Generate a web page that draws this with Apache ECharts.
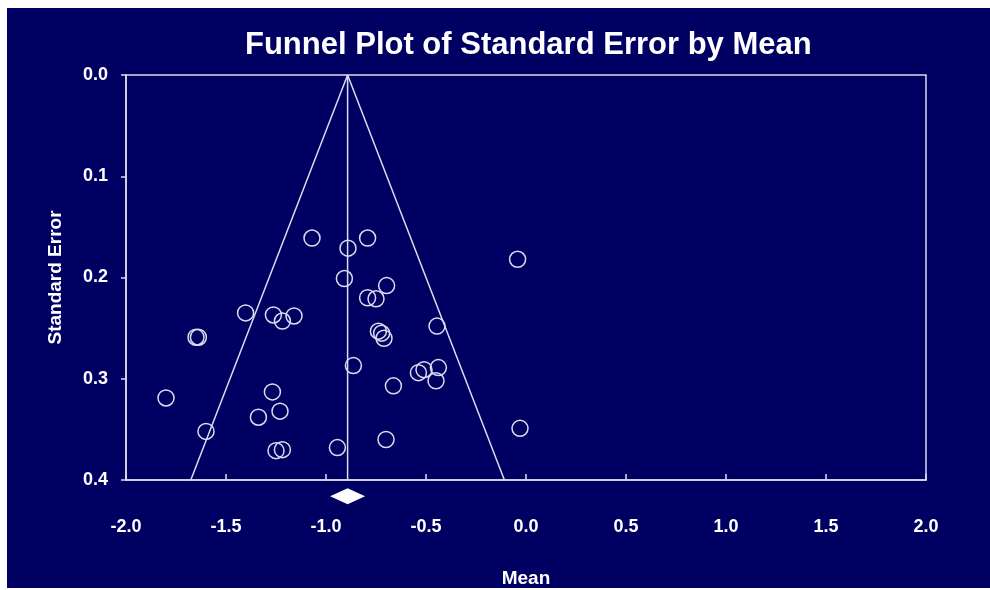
<!DOCTYPE html>
<html>
<head>
<meta charset="utf-8">
<script src="https://cdn.jsdelivr.net/npm/echarts@6/dist/echarts.min.js"></script>
<style>
  html, body { margin: 0; padding: 0; background: #ffffff; }
  #chart { position: absolute; left: 7px; top: 8px; width: 983px; height: 580px; background: #000062; }
</style>
</head>
<body>
<div id="chart"></div>
<script>
// study means and standard errors
const studyMeans = [-1.07, -0.792, -0.89, -0.042, -0.908, -0.697, -0.792, -0.75, -1.402, -1.263,
    -1.16, -1.218, -0.445, -1.65, -1.638, -0.738, -0.722, -0.71, -0.863, -0.438,
    -0.538, -0.51, -0.45, -0.663, -1.268, -1.80, -1.23, -1.338, -1.60, -0.03,
    -0.70, -0.943, -1.25, -1.218];
const studyErrors = [0.161, 0.161, 0.171, 0.182, 0.201, 0.208, 0.220, 0.221, 0.235, 0.237,
    0.238, 0.243, 0.248, 0.259, 0.259, 0.253, 0.255, 0.260, 0.287, 0.289,
    0.294, 0.291, 0.302, 0.307, 0.313, 0.319, 0.332, 0.338, 0.352, 0.349,
    0.360, 0.368, 0.371, 0.370];
const pooledMean = -0.892;
const maxError = 0.4;
const xTicks = [-2.0, -1.5, -1.0, -0.5, 0.0, 0.5, 1.0, 1.5, 2.0];

const white = '#dcdcf0';
const font = '"Liberation Sans", Arial, sans-serif';

const points = studyMeans.map((m, i) => [m, studyErrors[i]]);
// 95% limits of the funnel
const funnel = [
    [pooledMean - 1.96 * maxError, maxError],
    [pooledMean, 0],
    [pooledMean + 1.96 * maxError, maxError]
];
const centerLine = [[pooledMean, 0], [pooledMean, maxError]];

const chart = echarts.init(document.getElementById('chart'));
chart.setOption({
    animation: false,
    title: {
        text: 'Funnel Plot of Standard Error by Mean',
        left: 233,
        top: 17,
        textStyle: { color: '#ffffff', fontFamily: font, fontWeight: 'bold', fontSize: 31 }
    },
    grid: {
        left: 119, top: 67, width: 800, height: 405,
        outerBoundsMode: 'none',
        show: true, borderColor: white, borderWidth: 1.5, backgroundColor: 'transparent'
    },
    xAxis: {
        type: 'value',
        min: xTicks[0], max: xTicks[xTicks.length - 1], interval: 0.5,
        name: 'Mean', nameLocation: 'middle', nameGap: 89,
        nameTextStyle: { color: '#ffffff', fontFamily: font, fontWeight: 'bold', fontSize: 19 },
        axisLine: { onZero: false, lineStyle: { color: white, width: 1.5 } },
        axisTick: { inside: true, length: 6, lineStyle: { color: white, width: 1.5 } },
        axisLabel: {
            color: '#ffffff', fontFamily: font, fontWeight: 'bold', fontSize: 18, margin: 38,
            formatter: v => v.toFixed(1)
        },
        splitLine: { show: false }
    },
    yAxis: {
        type: 'value',
        inverse: true,
        min: 0, max: maxError, interval: 0.1,
        name: 'Standard Error', nameLocation: 'middle', nameGap: 61,
        nameTextStyle: { color: '#ffffff', fontFamily: font, fontWeight: 'bold', fontSize: 19 },
        axisLine: { onZero: false, lineStyle: { color: white, width: 1.5 } },
        axisTick: { length: 5, lineStyle: { color: white, width: 1.5 } },
        axisLabel: {
            color: '#ffffff', fontFamily: font, fontWeight: 'bold', fontSize: 18, margin: 18,
            formatter: v => v.toFixed(1)
        },
        splitLine: { show: false }
    },
    series: [
        {
            type: 'line', data: funnel, symbol: 'none', silent: true,
            lineStyle: { color: white, width: 1.5 }
        },
        {
            type: 'line', data: centerLine, symbol: 'none', silent: true,
            lineStyle: { color: white, width: 1.5 }
        },
        {
            type: 'scatter', data: points, symbol: 'circle', symbolSize: 16,
            itemStyle: { color: 'transparent', borderColor: white, borderWidth: 1.5, opacity: 1 }
        },
        {
            type: 'scatter', data: [[pooledMean, 0.416]], symbol: 'diamond', symbolSize: [35, 16],
            clip: false,
            itemStyle: { color: '#ffffff', opacity: 1 }
        }
    ]
});
</script>
</body>
</html>
